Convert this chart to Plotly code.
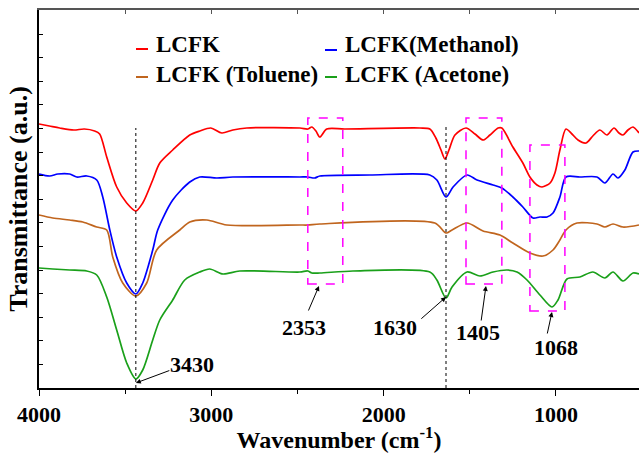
import plotly.graph_objects as go

# ---------------- data (wavenumber cm^-1, transmittance a.u.) ----------------
wn_lcfk = [4000, 3940, 3880, 3798, 3737, 3677, 3648, 3607, 3549, 3491, 3438, 3398, 3340, 3299, 3224,
           3125, 3067, 3003, 2939, 2875, 2794, 2486, 2440, 2417, 2393, 2370, 2330, 2225, 1790, 1732,
           1697, 1667, 1644, 1621, 1586, 1522, 1470, 1423, 1383, 1336, 1314, 1250, 1192, 1151, 1110,
           1081, 1034, 1006, 977, 942, 907, 872, 826, 786, 745, 704, 663, 634, 611, 582, 553, 518]
t_lcfk = [264, 262, 260, 258, 259, 257, 254, 231, 201, 185, 177, 185, 208, 225, 238,
          253, 257, 260, 255, 258, 260, 260, 259, 261, 257, 251, 259, 259, 260, 259,
          250, 238, 229, 238, 253, 260, 254, 248, 253, 260, 260, 241, 225, 211, 203,
          201, 205, 215, 238, 259, 254, 248, 245, 252, 258, 253, 260, 255, 253, 258, 261, 255]

wn_meth = [4000, 3938, 3891, 3822, 3781, 3723, 3665, 3630, 3589, 3549, 3491, 3438, 3398, 3340, 3311,
           3224, 3125, 3067, 2968, 2875, 2486, 2440, 2400, 2370, 2080, 1732, 1691, 1638, 1597, 1516,
           1458, 1365, 1314, 1250, 1192, 1133, 1093, 1052, 1017, 977, 942, 861, 762, 716, 669,
           640, 600, 553, 518]
t_meth = [214, 212, 214, 214, 211, 212, 208, 191, 158, 131, 105, 94, 105, 138, 158,
          188, 206, 211, 210, 211, 211, 211, 210, 212, 213, 213, 208, 191, 201, 213,
          208, 203, 200, 191, 181, 170, 171, 171, 175, 191, 211, 211, 211, 205, 214,
          210, 218, 236, 237]

wn_tol = [4000, 3920, 3822, 3746, 3665, 3607, 3572, 3514, 3438, 3375, 3317, 3183, 3125, 3026, 2910,
          2486, 2440, 2370, 1703, 1638, 1603, 1516, 1423, 1325, 1250, 1151, 1075, 1017, 977, 942,
          878, 762, 716, 669, 611, 518]
t_tol = [173, 170, 168, 166, 161, 158, 131, 105, 92, 105, 138, 158, 166, 168, 163,
         163, 163, 164, 165, 155, 158, 165, 157, 153, 145, 135, 132, 138, 148, 158,
         165, 164, 161, 164, 161, 163]

wn_ace = [4000, 3920, 3822, 3723, 3665, 3607, 3549, 3491, 3438, 3398, 3340, 3299, 3224, 3154, 3067,
          3009, 2932, 2835, 2486, 2440, 2417, 2370, 2178, 1732, 1691, 1638, 1603, 1516, 1441, 1365,
          1284, 1226, 1168, 1093, 1023, 988, 936, 861, 786, 716, 669, 611, 553, 518]
t_ace = [120, 119, 118, 117, 113, 91, 58, 25, 9, 18, 48, 68, 88, 108, 116,
         119, 114, 117, 116, 117, 115, 115, 117, 116, 108, 90, 101, 116, 112, 116,
         118, 116, 108, 93, 81, 88, 109, 111, 116, 110, 116, 107, 115, 114]

series_names = ["LCFK", "LCFK(Methanol)", "LCFK (Toluene)", "LCFK (Acetone)"]
series_colors = ["#FF0000", "#0000FF", "#C0651E", "#1AA01A"]

x_tick_vals = [4000, 3000, 2000, 1000]
x_tick_text = ["4000", "3000", "2000", "1000"]

# peak markers
dotted_x = [3438, 1638]
dotted_top = [260, 261]
boxes = [(2440, 2237, 104, 270), (1522, 1314, 104, 270), (1151, 948, 77, 243)]
labels = ["3430", "2353", "1630", "1405", "1068"]
label_pos = [(3112, 24), (2462, 61), (1935, 61), (1453, 56), (1000, 41)]
arrow_head = [(3438, 5), (2375, 102), (1638, 91), (1406, 102), (1023, 76)]
arrow_tail = [(3235, 18), (2440, 76), (1790, 68), (1435, 66), (1052, 53)]

FONT = "Liberation Serif, Times New Roman, Times, serif"

fig = go.Figure()
for wn, t, name, c in zip([wn_lcfk, wn_meth, wn_tol, wn_ace], [t_lcfk, t_meth, t_tol, t_ace],
                          series_names, series_colors):
    fig.add_trace(go.Scatter(x=wn, y=t, mode="lines", name=name,
                             line=dict(color=c, width=1.7, shape="spline", smoothing=0.8),
                             showlegend=False))
# invisible trace for top axis
fig.add_trace(go.Scatter(x=[4000], y=[0], xaxis="x2", mode="markers",
                         marker=dict(opacity=0), showlegend=False, hoverinfo="skip"))

shapes = []
for x, top in zip(dotted_x, dotted_top):
    shapes.append(dict(type="line", xref="x", yref="y", x0=x, x1=x, y0=0, y1=top,
                       line=dict(color="black", width=1, dash="dot")))
for x0, x1, y0, y1 in boxes:
    shapes.append(dict(type="rect", xref="x", yref="y", x0=x0, x1=x1, y0=y0, y1=y1,
                       line=dict(color="#FF00FF", width=1.5, dash="dash")))

annotations = []
for txt, (lx, ly), (hx, hy), (tx, ty) in zip(labels, label_pos, arrow_head, arrow_tail):
    annotations.append(dict(x=lx, y=ly, xref="x", yref="y", text=f"<b>{txt}</b>", showarrow=False,
                            font=dict(family=FONT, size=22, color="black")))
    annotations.append(dict(x=hx, y=hy, ax=tx, ay=ty, xref="x", yref="y", axref="x", ayref="y",
                            text="", showarrow=True, arrowhead=2, arrowsize=1, arrowwidth=1,
                            arrowcolor="black"))

# manual legend (pixel positions -> paper)
def px(xp):
    return (xp - 39) / 600.0

def py(yp):
    return (388 - yp) / 378.0

leg = [(136, 49, 45), (325, 50, 45), (136, 77, 74), (325, 77, 74)]
for (x0, ys, yt), name, c in zip(leg, series_names, series_colors):
    shapes.append(dict(type="line", xref="paper", yref="paper", x0=px(x0), x1=px(x0 + 12),
                       y0=py(ys), y1=py(ys), line=dict(color=c, width=2)))
    annotations.append(dict(x=px(x0 + 18), y=py(yt), xref="paper", yref="paper",
                            xanchor="left", yanchor="middle", showarrow=False,
                            text=f"<b>{name}</b>", font=dict(family=FONT, size=23, color="black")))

fig.update_layout(
    width=639, height=453,
    margin=dict(l=39, r=0, t=10, b=65),
    paper_bgcolor="white", plot_bgcolor="white",
    font=dict(family=FONT),
    shapes=shapes, annotations=annotations,
    xaxis=dict(range=[4000, 518], showgrid=False, zeroline=False,
               showline=True, linecolor="black", linewidth=1.5,
               tickmode="array", tickvals=x_tick_vals,
               ticktext=[f"<b>{t}</b>" for t in x_tick_text],
               ticks="outside", ticklen=6, tickwidth=1.2, tickcolor="black",
               minor=dict(dtick=500, tick0=0, ticks="outside", ticklen=4, tickcolor="black"),
               tickfont=dict(family=FONT, size=22, color="black"),
               title=dict(text="<b>Wavenumber (cm<sup>-1</sup>)</b>", standoff=9,
                          font=dict(family=FONT, size=24, color="black"))),
    xaxis2=dict(overlaying="x", side="top", matches="x", range=[4000, 518],
                showgrid=False, zeroline=False, showline=True, linecolor="#555555", linewidth=2,
                tickmode="linear", tick0=0, dtick=500, ticks="inside", ticklen=4,
                tickcolor="#555555", showticklabels=False),
    yaxis=dict(range=[0, 378], showgrid=False, zeroline=False,
               showline=True, linecolor="black", linewidth=1.5,
               tickmode="linear", tick0=0, dtick=23.6, ticks="inside", ticklen=4,
               tickcolor="black", showticklabels=False,
               title=dict(text="<b>Transmittance (a.u.)</b>", standoff=2,
                          font=dict(family=FONT, size=26, color="black"))),
)

fig.write_html("out.html")
